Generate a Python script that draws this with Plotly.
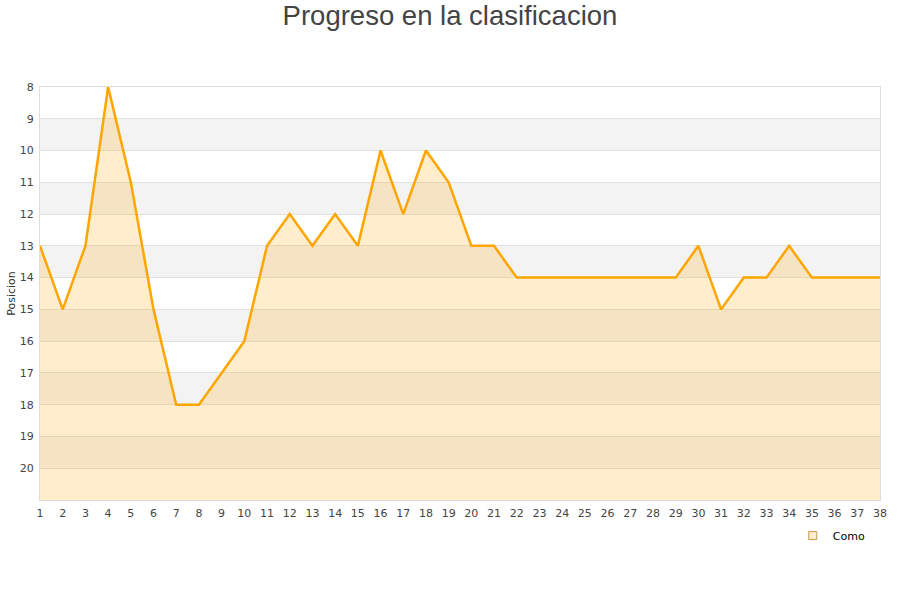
import plotly.graph_objects as go

jornadas = list(range(1, 39))
posicion = [13, 15, 13, 8, 11, 15, 18, 18, 17, 16, 13, 12, 13, 12, 13, 10, 12, 10, 11, 13,
            13, 14, 14, 14, 14, 14, 14, 14, 14, 13, 15, 14, 14, 13, 14, 14, 14, 14]
y_ticks = list(range(8, 21))
team = "Como"

fig = go.Figure()

# alternating bands
for y0 in range(9, 21, 2):
    fig.add_shape(type="rect", xref="paper", x0=0, x1=1, yref="y", y0=y0, y1=y0 + 1,
                  fillcolor="#f3f3f3", line_width=0, layer="below")

fig.add_trace(go.Scatter(x=jornadas, y=[21] * len(jornadas), mode="lines",
                         line=dict(width=0), showlegend=False, hoverinfo="skip"))
fig.add_trace(go.Scatter(x=jornadas, y=posicion, mode="lines", fill="tonexty",
                         fillcolor="rgba(255,165,0,0.2)",
                         line=dict(color="#ffa500", width=2.5), showlegend=False))
fig.add_trace(go.Scatter(x=[None], y=[None], mode="markers", name=team,
                         marker=dict(symbol="square", size=8, color="#ffeccc",
                                     line=dict(color="#c89a50", width=1))))

fig.update_layout(
    width=900, height=600,
    paper_bgcolor="white", plot_bgcolor="white",
    margin=dict(l=40, r=20, t=87, b=100, autoexpand=False),
    title=dict(text="Progreso en la clasificacion", x=0.5, xanchor="center",
               yref="container", y=0.975, yanchor="middle",
               font=dict(family="Liberation Sans, Arial, sans-serif", size=27.5, color="#444")),
    font=dict(family="DejaVu Sans, sans-serif", size=11, color="#444"),
    xaxis=dict(range=[1, 38], tickmode="array", tickvals=jornadas, showgrid=False,
               zeroline=False, showline=True, linecolor="#ddd", mirror=True, ticks="",
               automargin=False, ticklabelstandoff=3, tickfont=dict(size=11, color="#444")),
    yaxis=dict(range=[21, 8], tickmode="array", tickvals=y_ticks, showgrid=True,
               gridcolor="#e0e0e0", zeroline=False, showline=True, linecolor="#ddd",
               mirror=True, ticks="", automargin=False, ticklabelstandoff=3,
               title=dict(text="Posicion", font=dict(size=11, color="#333"), standoff=1),
               tickfont=dict(size=11, color="#444")),
    legend=dict(x=0.989, y=-0.051, xanchor="right", yanchor="top", bgcolor="rgba(0,0,0,0)",
                font=dict(size=11, color="#000")),
    showlegend=True,
)

fig.write_html("out.html", config={"displayModeBar": False},
               post_script="document.body.style.margin='0';")
